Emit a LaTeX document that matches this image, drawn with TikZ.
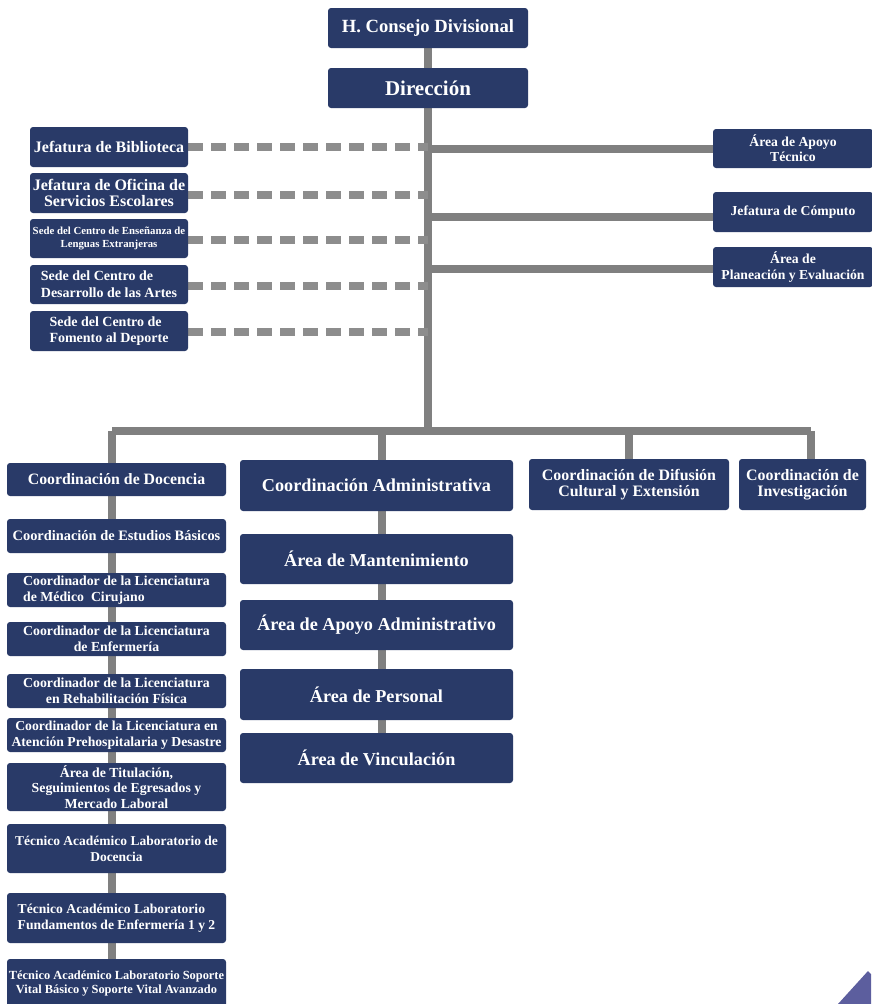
\documentclass[tikz,border=0pt]{standalone}
\usepackage{fontspec}
\setmainfont{Liberation Serif}
\usetikzlibrary{backgrounds}

\definecolor{damcblue}{RGB}{41,58,104}
\definecolor{damcgray}{RGB}{128,128,128}
\definecolor{damccorner}{RGB}{92,94,158}

\begin{document}
\begin{tikzpicture}[x=1pt, y=-1pt]

		\tikzstyle{unit}=[rectangle, rounded corners=3pt, fill=damcblue, text=white, align=center, inner sep=0pt]
		\tikzstyle{top}=[unit, minimum width=200pt, minimum height=40pt]
		\tikzstyle{aux}=[unit, minimum width=158pt, minimum height=40pt]
		\tikzstyle{staff}=[unit, minimum width=160pt, minimum height=40pt, font=\bfseries\fontsize{13.7}{15.3}\selectfont]
		\tikzstyle{coord}=[unit, minimum height=51pt, font=\bfseries\fontsize{15.9}{16}\selectfont]
		\tikzstyle{admin}=[unit, minimum width=273pt, minimum height=50pt, font=\bfseries\fontsize{18.2}{20}\selectfont]
		\tikzstyle{teach}=[unit, minimum width=219pt, minimum height=34pt, font=\bfseries\fontsize{13.8}{15.8}\selectfont]
		\tikzstyle{link}=[damcgray, line width=8pt]
		\tikzstyle{dotted link}=[damcgray!90, line width=8pt, dash pattern=on 15pt off 8pt]

		\useasboundingbox (0,0) rectangle (871,1004);

		% Head
		\node[top, font=\bfseries\fontsize{18.6}{20}\selectfont] (cons) at (428,28) {H. Consejo Divisional};
		\node[top, font=\bfseries\fontsize{21}{22}\selectfont] (dir) at (428,88) {Dirección};

		% Support units (left)
		\node[aux, font=\bfseries\fontsize{16}{17}\selectfont] (bib) at (109,147) {Jefatura de Biblioteca};
		\node[aux, font=\bfseries\fontsize{16}{15.7}\selectfont] (ofi) at (109,193) {Jefatura de Oficina de\\Servicios Escolares};
		\node[aux, minimum height=39pt, font=\bfseries\fontsize{10.8}{13}\selectfont] (leng) at (109,238.5) {Sede del Centro de Enseñanza de\\Lenguas Extranjeras};
		\node[aux, align=left, minimum height=39pt, font=\bfseries\fontsize{14}{16.7}\selectfont] (artes) at (109,284.5) {Sede del Centro de\\Desarrollo de las Artes};
		\node[aux, align=left, font=\bfseries\fontsize{14}{16.7}\selectfont] (dep) at (109,331) {Sede del Centro de\\Fomento al Deporte};

		% Staff units (right)
		\node[staff, minimum height=39pt] (tec) at (793,148.5) {Área de Apoyo\\Técnico};
		\node[staff] (comp) at (793,212) {Jefatura de Cómputo};
		\node[staff] (plan) at (793,267) {Área de\\Planeación y Evaluación};

		% Coordinations
		\node[teach, minimum height=33pt, font=\bfseries\fontsize{15.8}{17}\selectfont] (doc) at (116.5,479.5) {Coordinación de Docencia};
		\node[admin, minimum height=51pt] (adm) at (376.5,485.5) {Coordinación Administrativa};
		\node[coord, minimum width=200pt] (dif) at (629,484.5) {Coordinación de Difusión\\Cultural y Extensión};
		\node[coord, minimum width=127pt] (inv) at (802.5,484.5) {Coordinación de\\Investigación};

		% Teaching column
		\node[teach, font=\bfseries\fontsize{14.4}{16}\selectfont] (bas) at (116.5,536) {Coordinación de Estudios Básicos};
		\node[teach, align=left] (med) at (116.5,590) {Coordinador de la Licenciatura\\de Médico~ Cirujano};
		\node[teach] (enf) at (116.5,639) {Coordinador de la Licenciatura\\de Enfermería};
		\node[teach] (reh) at (116.5,691) {Coordinador de la Licenciatura\\en Rehabilitación Física};
		\node[teach, font=\bfseries\fontsize{13.7}{15.5}\selectfont] (aph) at (116.5,735) {Coordinador de la Licenciatura en\\Atención Prehospitalaria y Desastre};
		\node[teach, minimum height=48pt] (tit) at (116.5,787) {Área de Titulación,\\Seguimientos de Egresados y\\Mercado Laboral};
		\node[teach, minimum height=49pt, font=\bfseries\fontsize{13.5}{15.8}\selectfont] (lab) at (116.5,848.5) {Técnico Académico Laboratorio de\\Docencia};
		\node[teach, align=left, minimum height=50pt, font=\bfseries\fontsize{13.6}{15.8}\selectfont] (fund) at (116.5,918) {Técnico Académico Laboratorio\\Fundamentos de Enfermería 1 y 2};
		\node[teach, minimum height=50pt, font=\bfseries\fontsize{12.4}{14}\selectfont] (sva) at (116.5,984) {Técnico Académico Laboratorio Soporte\\Vital Básico y Soporte Vital Avanzado};

		% Administrative column
		\node[admin] (mant) at (376.5,559) {Área de Mantenimiento};
		\node[admin] (apadm) at (376.5,625) {Área de Apoyo Administrativo};
		\node[admin, minimum height=51pt] (pers) at (376.5,694.5) {Área de Personal};
		\node[admin] (vinc) at (376.5,758) {Área de Vinculación};

		\coordinate (busL) at (112,431);
		\coordinate (busM) at (382,431);
		\coordinate (busR) at (811,431);

		\begin{pgfonlayer}{background}
		% trunk and bus
		\draw[link] (cons.south) -- (dir.north);
		\draw[link] (dir.south) -- (dir.south |- busL);
		\draw[link] (busL) -- (busR);
		\draw[link] (tec.west) -- (tec.west -| dir.south);
		\draw[link] ([yshift=-5pt]comp.west) -- ([yshift=-5pt]comp.west -| dir.south);
		\draw[link] ([yshift=-2pt]plan.west) -- ([yshift=-2pt]plan.west -| dir.south);
		\draw[dotted link] (bib.east) -- (bib.east -| dir.south);
		\draw[dotted link] ([yshift=-2pt]ofi.east) -- ([yshift=-2pt]ofi.east -| dir.south);
		\draw[dotted link] ([yshift=-1.5pt]leng.east) -- ([yshift=-1.5pt]leng.east -| dir.south);
		\draw[dotted link] ([yshift=-1.5pt]artes.east) -- ([yshift=-1.5pt]artes.east -| dir.south);
		\draw[dotted link] ([yshift=-1pt]dep.east) -- ([yshift=-1pt]dep.east -| dir.south);
		% drops
		\draw[link] (busL) -- (busL |- sva.north);
		\draw[link] (busM) -- (busM |- vinc.north);
		\draw[link] (dif.north) -- (dif.north |- busL);
		\draw[link] (busR) -- (busR |- inv.north);
		\end{pgfonlayer}

		\fill[damccorner] (838,1004) -- (868,971) -- (871,974) -- (871,1004) -- cycle;
\end{tikzpicture}
\end{document}
